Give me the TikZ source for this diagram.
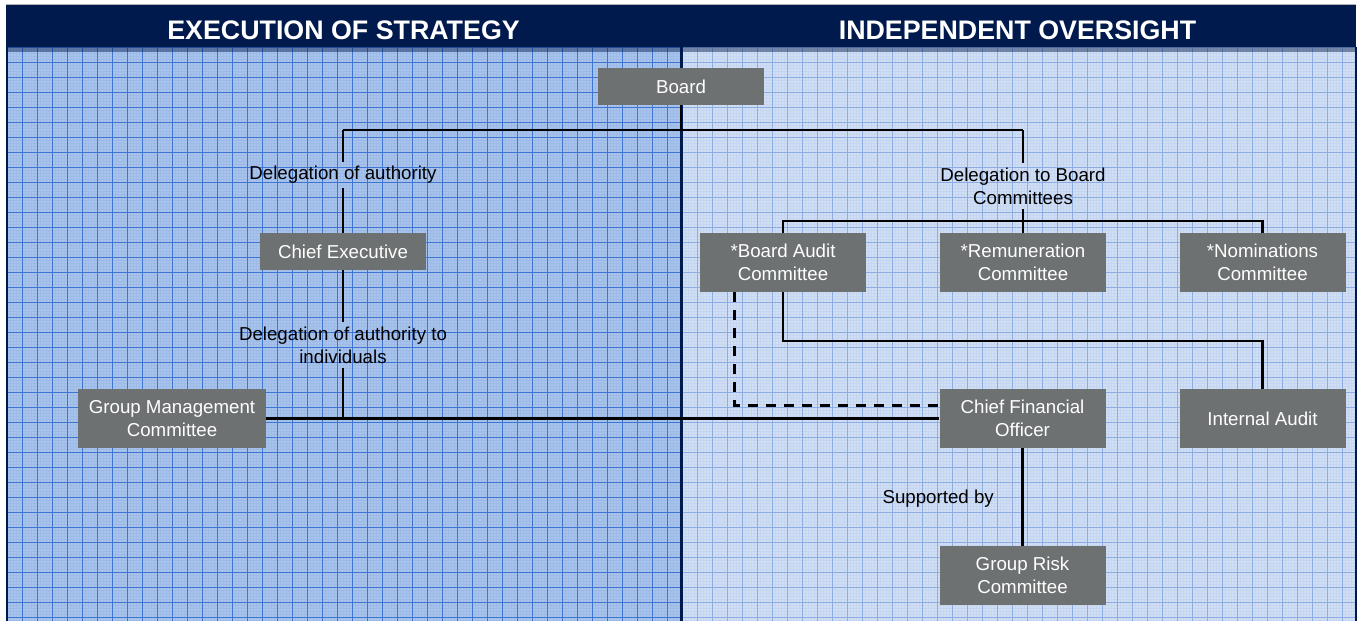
\documentclass[tikz,border=0pt]{standalone}
\usepackage{fontspec}
\setmainfont{Liberation Sans}
\usetikzlibrary{calc}
\definecolor{navy}{RGB}{1,26,78}
\definecolor{leftbg}{RGB}{168,196,236}
\definecolor{leftmajor}{RGB}{62,116,210}
\definecolor{leftminor}{RGB}{158,187,232}
\definecolor{rightbg}{RGB}{209,223,244}
\definecolor{rightmajor}{RGB}{140,172,226}
\definecolor{rightminor}{RGB}{199,214,240}
\definecolor{boxgray}{RGB}{109,113,113}
\tikzset{
  orgbox/.style={fill=boxgray, text=white, align=center, inner sep=0pt,
    minimum width=166pt, font=\fontsize{18.7}{23}\selectfont},
  onebox/.style={orgbox, minimum height=37pt},
  twobox/.style={orgbox, minimum height=59pt},
  lbl/.style={align=center, inner sep=4pt, font=\fontsize{18.7}{23}\selectfont},
  head/.style={text=white, font=\bfseries\fontsize{26.8}{30}\selectfont},
  link/.style={draw=black, line width=2.8pt},
  dashlink/.style={draw=black, line width=2.8pt, dash pattern=on 10pt off 8pt},
}
\begin{document}
\begin{tikzpicture}[x=1pt,y=-1pt]
\useasboundingbox (0,0) rectangle (1360,621);
% panels
\fill[leftbg] (6,47) rectangle (681,621);
\fill[rightbg] (681,47) rectangle (1356,621);
% graph-paper grid, left panel
\begin{scope}
\clip (6,47) rectangle (681,621);
\foreach \i in {0,...,225} {
  \draw[leftminor, line width=0.4pt] ({7+3*\i},47) -- ({7+3*\i},621);
}
\foreach \j in {0,...,192} {
  \draw[leftminor, line width=0.4pt] (6,{47+3*\j}) -- (681,{47+3*\j});
}
\foreach \i in {0,...,45} {
  \draw[leftmajor, line width=0.8pt] ({7+15*\i},47) -- ({7+15*\i},621);
}
\foreach \j in {0,...,39} {
  \draw[leftmajor, line width=0.8pt] (6,{47+15*\j}) -- (681,{47+15*\j});
}
\end{scope}
% graph-paper grid, right panel
\begin{scope}
\clip (681,47) rectangle (1356,621);
\foreach \i in {0,...,225} {
  \draw[rightminor, line width=0.4pt] ({682+3*\i},47) -- ({682+3*\i},621);
}
\foreach \j in {0,...,192} {
  \draw[rightminor, line width=0.4pt] (681,{47+3*\j}) -- (1356,{47+3*\j});
}
\foreach \i in {0,...,45} {
  \draw[rightmajor, line width=0.8pt] ({682+15*\i},47) -- ({682+15*\i},621);
}
\foreach \j in {0,...,39} {
  \draw[rightmajor, line width=0.8pt] (681,{47+15*\j}) -- (1356,{47+15*\j});
}
\end{scope}
% header band and frame
\fill[navy] (6,4) rectangle (1356,47);
\fill[navy, opacity=0.45] (6,47) rectangle (1356,52);
\draw[gray!60, line width=0.8pt] (6,4) -- (1356,4);
\draw[navy, line width=3pt] (681,47) -- (681,621);
\draw[navy, line width=2pt] (7,47) -- (7,621);
\draw[navy, line width=2pt] (1355.5,47) -- (1355.5,621);
\node[head] (hleft) at (343.5,30) {EXECUTION OF STRATEGY};
\node[head] (hright) at (1017.5,30) {INDEPENDENT OVERSIGHT};

% boxes
\node[onebox] (board) at (681,86.5) {Board};
\node[onebox] (ce) at (343,251.5) {Chief Executive};
\node[twobox] (bac) at (783,262.5) {*Board Audit\\Committee};
\node[twobox] (rem) at (1023,262.5) {*Remuneration\\Committee};
\node[twobox] (nom) at (1262.5,262.5) {*Nominations\\Committee};
\node[twobox, minimum width=188pt] (gmc) at (172,418.5) {Group Management\\Committee};
\node[twobox] (cfo) at (1022.5,418.5) {Chief Financial\\Officer};
\node[twobox] (ia) at (1262.5,418.5) {Internal Audit};
\node[twobox] (grc) at (1022.5,575.5) {Group Risk\\Committee};

% labels
\node[lbl] (doa) at (343,175) {Delegation of authority};
\node[lbl] (dbc) at (1023,186) {Delegation to Board\\Committees};
\node[lbl] (dai) at (343,345) {Delegation of authority to\\individuals};
\node[lbl, anchor=east, inner sep=0pt] (sup) at (994,499) {Supported by};

% junction points
\coordinate (busL) at (343,130);
\coordinate (busR) at (1023,130);
\coordinate (cbus) at (1023,221);
\coordinate (bacturn) at (783,341);
\coordinate (dashtop) at ($(bac.south west)+(35,0)$);
\coordinate (dashend) at ($(cfo.west)+(0,-13)$);

% connectors
\draw[link] (board.south) -- (board.south |- busL);
\draw[link] (busL) -- (busR);
\draw[link] (busL) -- (doa.north);
\draw[link] (doa.south) -- (ce.north);
\draw[link] (busR) -- (dbc.north);
\draw[link] (dbc.south) -- (cbus);
\draw[link] (bac.north) -- (bac.north |- cbus) -- (nom.north |- cbus) -- (nom.north);
\draw[link] (cbus) -- (rem.north);
\draw[link] (ce.south) -- (dai.north);
\draw[link] (dai.south) -- (dai.south |- gmc.east);
\draw[link] (gmc.east) -- (cfo.west);
\draw[link] (bac.south) -- (bacturn) -- (ia.north |- bacturn) -- (ia.north);
\draw[dashlink] (dashtop) -- (dashtop |- dashend) -- (dashend);
\draw[link] (cfo.south) -- (grc.north);
\end{tikzpicture}
\end{document}
